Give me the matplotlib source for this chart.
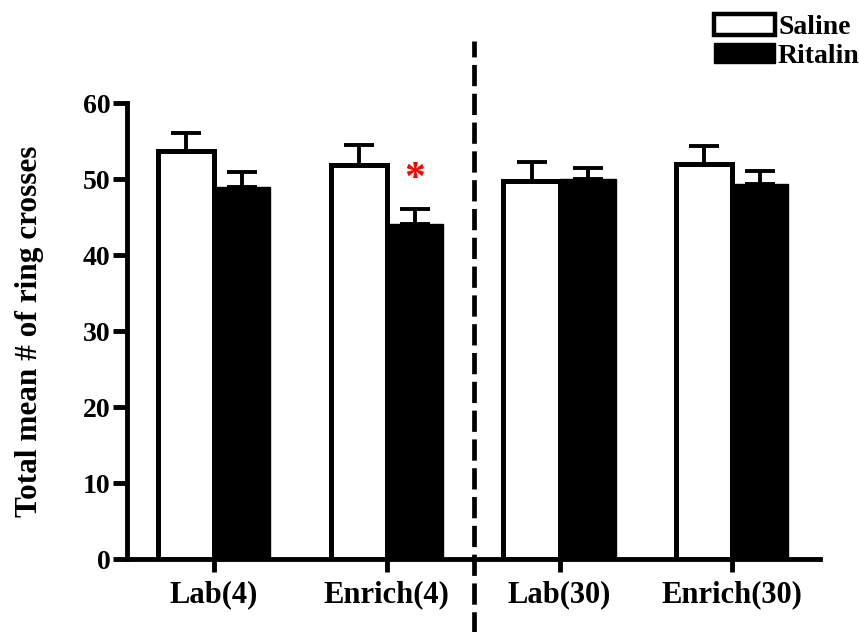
import numpy as np
import matplotlib
matplotlib.use('Agg')
import matplotlib.pyplot as plt
from matplotlib.patches import Patch
import matplotlib.transforms as mtransforms

# data
groups = ['Lab(4)', 'Enrich(4)', 'Lab(30)', 'Enrich(30)']
saline = [53.7, 51.9, 49.8, 52.0]
saline_err = [2.4, 2.6, 2.5, 2.4]
ritalin = [48.9, 44.1, 50.0, 49.4]
ritalin_err = [2.0, 2.0, 1.5, 1.7]

plt.rcParams['font.family'] = ['Liberation Serif', 'DejaVu Serif']
plt.rcParams['font.weight'] = 'bold'

fig = plt.figure(figsize=(8.59, 6.32), dpi=100)
ax = fig.add_axes([0.148, 0.1155, 0.807, 0.7215])

x = np.arange(len(groups))
w = 0.325
lw = 3.6

ax.bar(x - w / 2, saline, w, color='white', edgecolor='black', linewidth=lw, zorder=3)
ax.bar(x + w / 2, ritalin, w, color='black', edgecolor='black', linewidth=1, zorder=3)
ax.errorbar(x - w / 2, saline, yerr=[np.zeros(4), saline_err], fmt='none',
            ecolor='black', elinewidth=2.8, capsize=11, capthick=2.8, zorder=2)
ax.errorbar(x + w / 2, ritalin, yerr=[np.zeros(4), ritalin_err], fmt='none',
            ecolor='black', elinewidth=2.8, capsize=11, capthick=2.8, zorder=2)

# significance marker
ax.text(1 + w / 2, ritalin[1] + ritalin_err[1] + 1.3, '*', color='red',
        fontsize=30, ha='center', va='bottom', fontweight='bold')

# dashed divider extending beyond the axes
trans = mtransforms.blended_transform_factory(ax.transData, ax.transAxes)
ax.plot([1.507, 1.507], [-0.165, 1.135], transform=trans, color='black',
        linewidth=3.4, linestyle=(0, (4.5, 1.6)), clip_on=False, zorder=4)

ax.set_xlim(-0.504, 3.51)
ax.set_ylim(0, 60)
ax.set_yticks(range(0, 61, 10))
ax.set_xticks(x)
ax.set_xticklabels(groups, fontsize=22, fontweight='bold')
ax.tick_params(axis='y', labelsize=20, width=3.5, length=10, pad=2)
ax.tick_params(axis='x', width=3.5, length=9, pad=6)
for t in ax.get_yticklabels():
    t.set_fontweight('bold')

for s in ['top', 'right']:
    ax.spines[s].set_visible(False)
for s in ['left', 'bottom']:
    ax.spines[s].set_linewidth(3.5)

ax.set_ylabel('Total mean # of ring crosses', fontsize=22.5, fontweight='bold', labelpad=28)

handles = [Patch(facecolor='white', edgecolor='black', linewidth=3.2, label='Saline'),
           Patch(facecolor='black', edgecolor='black', label='Ritalin')]
fig.legend(handles=handles, loc='upper right', bbox_to_anchor=(1.03, 1.017),
           frameon=False, handlelength=2.2, handleheight=0.75, labelspacing=0.1,
           handletextpad=0.1, prop={'family': 'Liberation Serif', 'weight': 'bold', 'size': 20})

fig.savefig('out.png', dpi=100)
